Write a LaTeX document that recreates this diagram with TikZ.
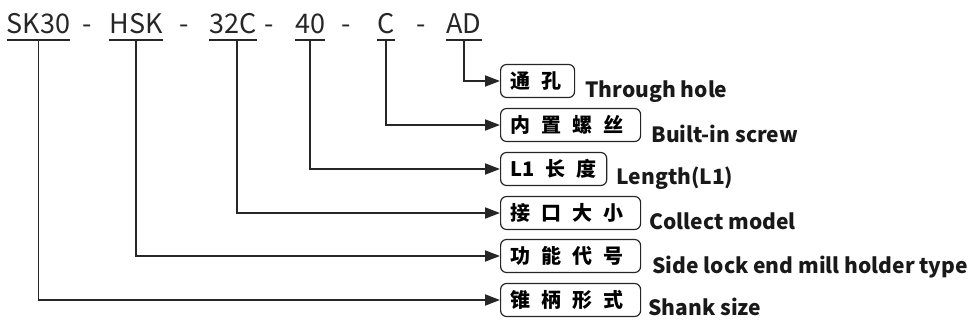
\documentclass[tikz,border=0pt]{standalone}
\usepackage{fontspec}
\setmainfont{Noto Sans CJK SC}
\usetikzlibrary{arrows.meta, positioning, calc}

\newcommand{\gp}{\hspace{0.55em}}
\newcommand{\tailpad}{\kern7pt}

\begin{document}
\begin{tikzpicture}[
    x=1pt, y=-1pt,
    >={Triangle[length=15pt, width=11pt]},
    code/.style={
        font=\fontsize{27}{27}\selectfont,
        text=black!85,
        inner sep=0pt,
        anchor=base
    },
    sepmark/.style={
        font=\fontsize{27}{27}\selectfont,
        text=black!85,
        inner sep=0pt,
        anchor=base
    },
    uline/.style={
        line width=1.8pt,
        draw=black!85
    },
    link/.style={
        ->,
        line width=1.8pt,
        draw=black!85
    },
    tag/.style={
        draw=black!85,
        line width=1.2pt,
        rounded corners=6pt,
        anchor=west,
        minimum height=33pt,
        inner xsep=10pt,
        inner ysep=0pt,
        font=\bfseries\fontsize{20}{20}\selectfont
    },
    desc/.style={
        anchor=base west,
        inner sep=0pt,
        font=\bfseries\fontsize{21}{21}\selectfont,
        text=black!90
    }
]
\useasboundingbox (0,0) rectangle (969,323);

% model code
\coordinate (ul) at (0,40);
\node[code] (sk)  at (38.5,34) {SK30};
\node[code] (hsk) at (136,34)  {HSK};
\node[code] (sz)  at (233,34)  {32C};
\node[code] (len) at (310,34)  {40};
\node[code] (scr) at (386,34)  {C};
\node[code] (ad)  at (464,34)  {AD};

\node[sepmark] at (87,34)  {-};
\node[sepmark] at (184,34) {-};
\node[sepmark] at (269,34) {-};
\node[sepmark] at (346,34) {-};
\node[sepmark] at (421,34) {-};

\foreach \t in {sk, hsk, sz, len, scr, ad}
    \draw[uline] (\t.west |- ul) -- (\t.east |- ul);

% tags
\node[tag] (hole)  at (500,81)  {通\gp 孔\kern3pt};
\node[tag] (screw) at (500,125) {内\gp 置\gp 螺\gp 丝\tailpad};
\node[tag] (lone)  at (500,169) {L1\gp 长\gp 度};
\node[tag] (coll)  at (500,213) {接\gp 口\gp 大\gp 小\tailpad};
\node[tag] (func)  at (500,256) {功\gp 能\gp 代\gp 号\tailpad};
\node[tag] (shank) at (500,300) {锥\gp 柄\gp 形\gp 式\tailpad};

\node[desc] at ([xshift=10pt, yshift=1pt]hole.south east)  {Through hole};
\node[desc] at ([xshift=10pt, yshift=0pt]screw.south east) {Built-in screw};
\node[desc] at ([xshift=9pt, yshift=2pt]lone.south east)   {Length(L1)};
\node[desc] at ([xshift=8pt, yshift=1pt]coll.south east)   {Collect model};
\node[desc] at ([xshift=11pt, yshift=0pt]func.south east)  {Side lock end mill holder type};
\node[desc] at ([xshift=7pt, yshift=2pt]shank.south east)  {Shank size};

% connectors
\draw[link] (ad.south |- ul)  |- (hole.west);
\draw[link] (scr.south |- ul) |- (screw.west);
\draw[link] (len.south |- ul) |- (lone.west);
\draw[link] ([xshift=4pt]sz.south |- ul) |- (coll.west);
\draw[link] (hsk.south |- ul) |- (func.west);
\draw[link] (sk.south |- ul)  |- (shank.west);

\end{tikzpicture}
\end{document}
